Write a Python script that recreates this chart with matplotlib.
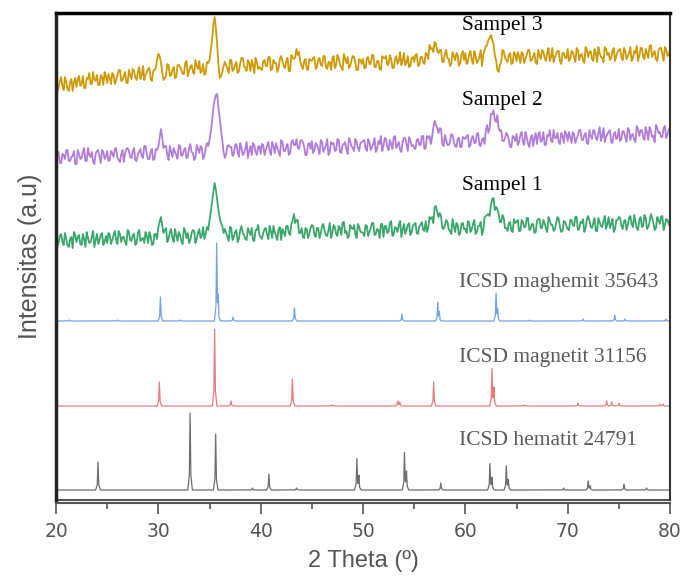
import matplotlib.pyplot as plt
import numpy as np

# measured samples: readings at 20 + 0.25*i, and in-between readings at 20.125 + 0.25*i
theta_a = np.arange(241) * 0.25 + 20
theta_b = np.arange(240) * 0.25 + 20.125

sampel_1_a = [
    24, 17, 26, 15, 21, 13, 23, 28, 18, 25, 15, 21, 28, 17, 23, 13, 26, 20, 27, 18,
    17, 25, 20, 29, 16, 26, 23, 18, 30, 20, 25, 15, 27, 19, 22, 28, 17, 24, 16, 26,
    33, 43, 27, 32, 21, 31, 18, 25, 28, 19, 32, 22, 17, 27, 29, 21, 31, 24, 21, 33,
    40, 58, 77, 60, 42, 34, 31, 23, 33, 20, 28, 18, 30, 27, 21, 32, 25, 20, 30, 35,
    23, 27, 32, 21, 29, 34, 24, 31, 20, 28, 34, 27, 36, 46, 40, 27, 32, 22, 31, 26,
    35, 25, 32, 22, 34, 29, 24, 37, 27, 33, 24, 32, 37, 27, 22, 35, 31, 26, 36, 28,
    27, 35, 24, 32, 37, 26, 30, 36, 23, 34, 29, 39, 26, 32, 35, 23, 36, 30, 37, 28,
    36, 27, 34, 38, 29, 28, 43, 43, 53, 48, 47, 32, 35, 38, 29, 41, 28, 35, 27, 37,
    31, 39, 28, 36, 26, 34, 38, 30, 44, 46, 55, 62, 53, 46, 38, 42, 32, 37, 29, 41,
    38, 29, 40, 33, 42, 30, 36, 27, 39, 41, 32, 37, 28, 40, 35, 31, 43, 33, 29, 38,
    31, 40, 35, 43, 30, 38, 41, 32, 44, 33, 37, 29, 42, 34, 39, 31, 43, 36, 28, 40,
    43, 34, 39, 30, 42, 36, 45, 32, 40, 33, 45, 31, 38, 42, 30, 43, 36, 44, 35, 40, 33,
]
sampel_1_b = [
    14, 24, 18, 27, 15, 21, 12, 25, 23, 16, 26, 13, 22, 18, 29, 20, 16, 25, 15, 24,
    27, 16, 25, 20, 29, 18, 23, 15, 28, 19, 26, 17, 30, 21, 17, 24, 28, 15, 26, 21,
    38, 35, 30, 18, 28, 22, 31, 19, 25, 16, 29, 27, 20, 30, 17, 27, 22, 33, 26, 30,
    48, 68, 70, 50, 37, 27, 27, 19, 32, 23, 30, 21, 34, 25, 20, 28, 32, 19, 30, 25,
    21, 31, 25, 34, 22, 28, 20, 33, 31, 24, 34, 25, 40, 37, 40, 27, 23, 32, 22, 32,
    34, 23, 32, 27, 36, 25, 30, 22, 35, 26, 34, 25, 38, 29, 24, 32, 35, 22, 33, 28,
    24, 34, 28, 37, 25, 31, 22, 36, 34, 27, 37, 24, 33, 28, 39, 30, 26, 35, 25, 34,
    37, 26, 35, 30, 39, 32, 41, 37, 54, 43, 44, 31, 40, 31, 26, 34, 37, 25, 36, 31,
    27, 37, 31, 40, 28, 34, 25, 42, 45, 44, 61, 50, 51, 38, 45, 32, 29, 38, 28, 37,
    40, 29, 38, 33, 42, 31, 36, 28, 41, 32, 40, 31, 43, 35, 29, 37, 41, 28, 39, 34,
    30, 40, 34, 43, 31, 37, 28, 41, 39, 32, 42, 29, 38, 33, 44, 36, 32, 41, 31, 40,
    42, 31, 40, 35, 44, 33, 38, 30, 43, 34, 42, 33, 46, 37, 32, 40, 43, 30, 41, 36,
]
sampel_2_a = [
    10, 18, 7, 15, 20, 9, 13, 19, 6, 16, 12, 22, 9, 15, 18, 6, 19, 13, 20, 11,
    19, 10, 17, 21, 12, 8, 20, 16, 22, 13, 19, 10, 16, 21, 12, 24, 11, 18, 10, 21,
    23, 41, 22, 24, 10, 18, 22, 15, 25, 14, 20, 12, 22, 18, 10, 25, 17, 22, 14, 27,
    30, 48, 70, 76, 52, 30, 12, 24, 23, 14, 25, 18, 27, 15, 21, 12, 24, 27, 18, 23,
    16, 25, 20, 28, 15, 24, 27, 18, 30, 19, 23, 15, 28, 25, 31, 21, 30, 23, 15, 27,
    29, 20, 25, 16, 28, 22, 31, 18, 26, 19, 31, 18, 25, 28, 16, 29, 22, 31, 22, 27,
    29, 22, 31, 20, 26, 18, 29, 34, 24, 31, 20, 26, 33, 22, 28, 18, 32, 26, 33, 24,
    22, 30, 25, 34, 21, 34, 34, 33, 49, 42, 42, 26, 35, 25, 28, 35, 24, 31, 23, 33,
    31, 35, 25, 34, 27, 37, 24, 32, 39, 37, 56, 60, 48, 42, 40, 29, 37, 30, 23, 33,
    36, 28, 38, 25, 33, 23, 35, 32, 26, 38, 30, 25, 35, 40, 28, 32, 37, 26, 34, 39,
    29, 33, 38, 27, 35, 40, 30, 37, 26, 34, 40, 32, 37, 29, 42, 33, 38, 28, 36, 31,
    41, 31, 38, 28, 40, 35, 30, 44, 34, 40, 30, 38, 43, 33, 28, 42, 38, 33, 44, 35, 41,
]
sampel_2_b = [
    18, 7, 16, 11, 20, 9, 14, 6, 20, 11, 18, 9, 22, 13, 8, 16, 20, 7, 18, 13,
    9, 19, 13, 22, 10, 16, 8, 21, 19, 12, 22, 9, 18, 14, 24, 16, 11, 21, 11, 20,
    32, 33, 24, 15, 24, 13, 18, 11, 24, 15, 22, 13, 26, 17, 12, 21, 24, 11, 22, 24,
    38, 62, 75, 62, 40, 18, 16, 25, 23, 16, 26, 13, 22, 17, 28, 19, 15, 25, 15, 24,
    26, 15, 24, 19, 28, 17, 22, 14, 28, 19, 26, 17, 30, 25, 22, 29, 28, 15, 26, 21,
    17, 27, 21, 30, 18, 24, 15, 28, 27, 20, 30, 17, 26, 21, 32, 24, 19, 28, 19, 28,
    30, 19, 28, 23, 32, 21, 26, 19, 32, 23, 30, 21, 34, 25, 20, 28, 32, 19, 30, 25,
    21, 31, 25, 34, 22, 32, 26, 43, 45, 37, 41, 24, 30, 25, 36, 28, 23, 32, 23, 32,
    34, 23, 32, 27, 36, 25, 30, 26, 45, 42, 56, 50, 55, 39, 29, 32, 35, 23, 34, 29,
    25, 35, 29, 38, 26, 32, 24, 37, 35, 28, 38, 25, 34, 29, 40, 32, 28, 37, 27, 36,
    38, 27, 36, 31, 40, 30, 35, 27, 40, 31, 39, 30, 43, 34, 28, 36, 40, 27, 38, 33,
    29, 39, 33, 42, 30, 36, 28, 41, 40, 33, 43, 30, 39, 34, 45, 37, 33, 42, 32, 41,
]
sampel_3_a = [
    20, 12, 23, 10, 18, 9, 21, 18, 13, 24, 16, 12, 22, 27, 16, 20, 25, 15, 23, 28,
    17, 22, 27, 16, 25, 30, 20, 28, 17, 25, 31, 23, 28, 21, 34, 25, 31, 21, 29, 32,
    46, 38, 20, 24, 35, 25, 33, 23, 35, 30, 26, 39, 29, 35, 26, 34, 39, 29, 25, 38,
    40, 60, 83, 55, 22, 28, 38, 31, 40, 29, 35, 27, 37, 42, 32, 40, 29, 35, 42, 31,
    31, 39, 34, 43, 30, 40, 37, 32, 44, 34, 39, 29, 45, 41, 51, 48, 34, 39, 31, 41,
    39, 43, 33, 42, 34, 44, 31, 38, 41, 32, 45, 35, 30, 41, 43, 34, 44, 37, 30, 40,
    41, 32, 43, 36, 45, 33, 39, 30, 42, 44, 36, 41, 32, 44, 39, 35, 47, 37, 33, 42,
    38, 46, 35, 43, 36, 46, 55, 52, 58, 49, 50, 38, 46, 42, 34, 48, 40, 45, 37, 49,
    47, 38, 49, 36, 44, 39, 50, 45, 54, 60, 65, 56, 40, 28, 38, 49, 40, 45, 36, 48,
    39, 43, 48, 37, 45, 50, 40, 47, 36, 44, 50, 42, 47, 39, 52, 43, 49, 39, 47, 42,
    51, 41, 48, 38, 50, 45, 40, 53, 43, 49, 39, 47, 53, 43, 38, 51, 47, 42, 52, 44,
    50, 43, 52, 41, 47, 39, 49, 54, 44, 52, 41, 47, 54, 43, 49, 39, 52, 46, 53, 44, 51,
]
sampel_3_b = [
    9, 19, 14, 23, 11, 18, 9, 22, 21, 14, 24, 12, 21, 16, 28, 19, 15, 25, 15, 24,
    26, 16, 25, 20, 30, 19, 24, 17, 30, 21, 29, 20, 33, 25, 20, 28, 32, 19, 30, 40,
    44, 28, 22, 36, 24, 30, 22, 35, 33, 26, 37, 24, 33, 28, 40, 31, 27, 36, 27, 37,
    50, 75, 72, 35, 24, 34, 35, 27, 40, 31, 38, 29, 42, 34, 29, 37, 40, 27, 38, 33,
    30, 40, 34, 43, 31, 37, 28, 41, 39, 32, 42, 29, 42, 43, 45, 38, 31, 41, 30, 40,
    42, 31, 40, 35, 44, 33, 38, 30, 44, 35, 42, 33, 46, 37, 32, 40, 43, 30, 41, 36,
    32, 42, 36, 45, 33, 39, 31, 44, 42, 35, 45, 32, 41, 36, 48, 39, 35, 44, 34, 43,
    45, 34, 43, 38, 47, 41, 51, 48, 56, 47, 50, 38, 50, 41, 36, 44, 47, 34, 45, 40,
    36, 46, 40, 49, 37, 43, 34, 50, 55, 62, 60, 45, 30, 35, 50, 42, 38, 47, 37, 46,
    48, 37, 46, 41, 50, 39, 44, 37, 50, 41, 48, 39, 52, 43, 38, 46, 49, 36, 47, 42,
    39, 49, 43, 52, 40, 46, 37, 50, 48, 41, 51, 38, 47, 42, 53, 45, 40, 49, 39, 48,
    51, 40, 49, 44, 53, 42, 47, 39, 52, 43, 51, 42, 55, 46, 41, 49, 52, 39, 50, 45,
]

# ICSD reference patterns: peak position (2 theta) and height
maghemit_pos = [21.3, 26.0, 30.2, 32.1, 35.7, 35.85, 37.3, 43.3, 53.8, 57.3, 57.45, 63.0, 63.15, 66.3, 71.5, 74.6, 75.6, 79.6]
maghemit_h = [1, 1, 24, 1, 76, 20, 4, 13, 7, 18, 8, 27, 10, 1, 2, 6, 2, 2]
magnetit_pos = [30.1, 35.5, 37.1, 43.1, 47.0, 53.4, 53.6, 56.9, 62.6, 62.8, 65.7, 71.0, 73.8, 74.3, 75.0, 79.0, 79.3]
magnetit_h = [24, 77, 5, 27, 1, 5, 4, 24, 37, 18, 1, 3, 5, 4, 3, 2, 2]
hematit_pos = [24.1, 33.1, 35.6, 39.2, 40.8, 43.5, 49.4, 49.6, 54.05, 54.25, 57.6, 62.4, 62.6, 64.0, 64.2, 69.6, 72.0, 72.2, 75.5, 77.7]
hematit_h = [28, 77, 56, 2, 16, 2, 31, 14, 37, 18, 7, 26, 12, 24, 10, 2, 9, 4, 6, 2]


def gabung(a, b):
    # interleave the two sets of readings into one scan
    x = np.empty(481)
    y = np.empty(481)
    x[0::2], x[1::2] = theta_a, theta_b
    y[0::2], y[1::2] = a, b
    return x, y


grid = np.linspace(20, 80, 6001)


def pola(pos, h, w=0.22):
    y = np.zeros_like(grid)
    for p, hh in zip(pos, h):
        y += np.interp(grid, [p - w, p - 0.07, p, p + 0.07, p + w], [0, 0.2 * hh, hh, 0.2 * hh, 0])
    return y


fig = plt.figure(figsize=(6.83, 5.81), dpi=100)
ax = fig.add_axes([0.082, 0.1394, 0.899, 0.8382])

ax.plot(grid, pola(hematit_pos, hematit_h) + 10, color="#6b706d", lw=0.9)
ax.plot(grid, pola(magnetit_pos, magnetit_h) + 94, color="#e87b7b", lw=0.9)
ax.plot(grid, pola(maghemit_pos, maghemit_h) + 179, color="#6fa2e6", lw=0.9)

x1, y1 = gabung(sampel_1_a, sampel_1_b)
x2, y2 = gabung(sampel_2_a, sampel_2_b)
x3, y3 = gabung(sampel_3_a, sampel_3_b)
ax.plot(x1, y1 + 240, color="#3aa86a", lw=1.3)
ax.plot(x2, y2 + 330, color="#b27cdc", lw=1.3)
ax.plot(x3, y3 + 400, color="#cf9a06", lw=1.3)

serif = "Liberation Serif"
ax.text(63.6, 475, "Sampel 3", ha="center", va="center", fontsize=15.5, family=serif, color="black")
ax.text(63.6, 400, "Sampel 2", ha="center", va="center", fontsize=15.5, family=serif, color="black")
ax.text(63.6, 315, "Sampel 1", ha="center", va="center", fontsize=15.5, family=serif, color="black")
ax.text(59.4, 218, "ICSD maghemit 35643", ha="left", va="center", fontsize=15.5, family=serif, color="#5a5a5a")
ax.text(59.4, 143, "ICSD magnetit 31156", ha="left", va="center", fontsize=15.5, family=serif, color="#5a5a5a")
ax.text(59.4, 60, "ICSD hematit 24791", ha="left", va="center", fontsize=15.5, family=serif, color="#5a5a5a")

ax.set_xlim(20, 80)
ax.set_ylim(0, 487)
ax.set_yticks([])
ax.set_xticks(range(20, 81, 10))
ax.set_xticks(range(25, 80, 10), minor=True)
ax.tick_params(axis="x", which="major", direction="out", length=8, width=1.2, color="#555555",
               labelsize=13.5, labelcolor="#555555", pad=5)
ax.tick_params(axis="x", which="minor", direction="out", length=4.5, width=1.2, color="#555555")
for lab in ax.get_xticklabels():
    lab.set_family("Liberation Sans")

ax.spines["top"].set_linewidth(2.5)
ax.spines["top"].set_color("black")
ax.spines["left"].set_linewidth(2.5)
ax.spines["left"].set_color("#222222")
ax.spines["right"].set_linewidth(1.5)
ax.spines["right"].set_color("#333333")
ax.spines["bottom"].set_position(("outward", 2.5))
ax.spines["bottom"].set_linewidth(1.5)
ax.spines["bottom"].set_color("#555555")
ax.plot([0, 1], [0, 0], transform=ax.transAxes, color="#555555", lw=1.5, clip_on=False)

ax.set_xlabel("2 Theta (º)", fontsize=17, family="Liberation Sans", color="#555555", labelpad=7)
ax.set_ylabel("Intensitas (a.u)", fontsize=18, family="Liberation Sans", color="#555555", labelpad=10)

plt.savefig("out.png", dpi=100)
